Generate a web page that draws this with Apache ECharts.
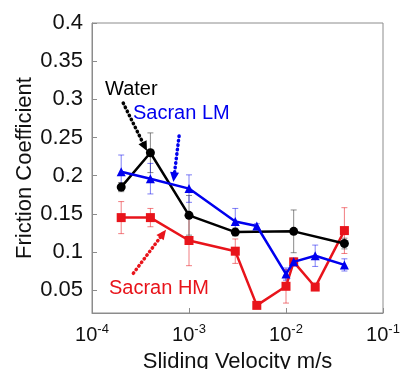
<!DOCTYPE html>
<html>
<head>
<meta charset="utf-8">
<script src="https://cdn.jsdelivr.net/npm/echarts@6/dist/echarts.min.js"></script>
<style>
  html, body { margin: 0; padding: 0; background: #fff; }
  #chart { width: 402px; height: 369px; }
</style>
</head>
<body>
<div id="chart"></div>
<script>
// sliding velocity (m/s)
const waterVel = [2e-4, 4e-4, 1e-3, 3e-3, 1.2e-2, 4e-2];
const sacranVel = [2e-4, 4e-4, 1e-3, 3e-3, 5e-3, 1e-2, 1.2e-2, 2e-2, 4e-2];

// friction coefficient + error
const water = [0.185, 0.230, 0.148, 0.126, 0.127, 0.111];
const waterErr = [0.006, 0.026, 0.026, 0.005, 0.028, 0.007];
const sacranLM = [0.205, 0.196, 0.183, 0.140, 0.134, 0.071, 0.087, 0.095, 0.083];
const sacranLMErr = [0.022, 0.020, 0.018, 0.017, 0.003, 0.008, 0.005, 0.014, 0.008];
const sacranHM = [0.145, 0.145, 0.115, 0.101, 0.030, 0.055, 0.087, 0.054, 0.128];
const sacranHMErr = [0.021, 0.012, 0.033, 0.016, 0.003, 0.022, 0.004, 0.003, 0.030];

const yTicks = [0.05, 0.1, 0.15, 0.2, 0.25, 0.3, 0.35, 0.4];
const xTickExp = { 0.0001: "-4", 0.001: "-3", 0.01: "-2", 0.1: "-1" };

// annotation arrows (data coords): [start, end]
const waterArrow = [[2.1e-4, 0.295], [3.5e-4, 0.238]];
const lmArrow = [[7.9e-4, 0.252], [7.0e-4, 0.198]];
const hmArrow = [[2.67e-4, 0.072], [5.4e-4, 0.124]];

const FONT = "Liberation Sans";
const AXIS_GRAY = "#8c8c8c";

function pts(xs, ys) {
  return xs.map((x, i) => [x, ys[i]]);
}
function errData(xs, ys, es) {
  return xs.map((x, i) => [x, ys[i] - es[i], ys[i] + es[i]]);
}

function errorSeries(xs, ys, es, color) {
  return {
    type: "custom",
    silent: true,
    data: errData(xs, ys, es),
    z: 1,
    renderItem: function (params, api) {
      const lo = api.coord([api.value(0), api.value(1)]);
      const hi = api.coord([api.value(0), api.value(2)]);
      const w = 3;
      const style = { stroke: color, lineWidth: 1 };
      return {
        type: "group",
        children: [
          { type: "line", shape: { x1: lo[0], y1: lo[1], x2: hi[0], y2: hi[1] }, style: style },
          { type: "line", shape: { x1: lo[0] - w, y1: lo[1], x2: lo[0] + w, y2: lo[1] }, style: style },
          { type: "line", shape: { x1: hi[0] - w, y1: hi[1], x2: hi[0] + w, y2: hi[1] }, style: style },
        ],
      };
    },
  };
}

function arrow(coords, color) {
  return {
    silent: true,
    symbol: ["none", "triangle"],
    symbolSize: [9, 10],
    label: { show: false },
    lineStyle: { color: color, type: [0.5, 4], cap: "round", width: 3.5 },
    data: [[{ coord: coords[0] }, { coord: coords[1] }]],
  };
}

const chart = echarts.init(document.getElementById("chart"));

const option = {
  animation: false,
  backgroundColor: "#fff",
  textStyle: { fontFamily: FONT },
  grid: {
    left: 92,
    right: 19,
    top: 23,
    bottom: 56,
    show: true,
    borderColor: AXIS_GRAY,
    borderWidth: 1,
    outerBoundsMode: "none",
  },
  xAxis: {
    type: "log",
    logBase: 10,
    min: 1e-4,
    max: 0.1,
    name: "Sliding Velocity m/s",
    nameLocation: "middle",
    nameMoveOverlap: false,
    nameGap: 38,
    nameTextStyle: { fontSize: 22, color: "#111", fontFamily: FONT },
    axisLine: { lineStyle: { color: AXIS_GRAY } },
    axisTick: { inside: true, length: 5, lineStyle: { color: AXIS_GRAY } },
    minorTick: { show: false },
    splitLine: { show: false },
    axisLabel: {
      margin: 10,
      color: "#111",
      formatter: function (v) {
        const key = Object.keys(xTickExp).find((k) => Math.abs(Math.log10(+k) - Math.log10(v)) < 1e-6);
        return "{b|10}{s|" + (key ? xTickExp[key] : "") + "}";
      },
      rich: {
        b: { fontSize: 20, fontFamily: FONT, color: "#111" },
        s: { fontSize: 13, fontFamily: FONT, color: "#111", padding: [0, 0, 12, 0] },
      },
    },
  },
  yAxis: {
    type: "value",
    min: 0.02,
    max: 0.4,
    name: "Friction Coefficient",
    nameLocation: "middle",
    nameRotate: 90,
    nameMoveOverlap: false,
    nameGap: 56,
    nameTextStyle: { fontSize: 22, color: "#111", fontFamily: FONT },
    axisLine: { show: true, lineStyle: { color: AXIS_GRAY } },
    axisTick: { inside: true, length: 5, customValues: yTicks, lineStyle: { color: AXIS_GRAY } },
    splitLine: { show: false },
    axisLabel: {
      customValues: yTicks,
      fontSize: 22,
      margin: 9,
      color: "#111",
      fontFamily: FONT,
      formatter: function (v) {
        return String(+v.toFixed(2));
      },
    },
  },
  graphic: [
    {
      type: "text",
      left: 105,
      top: 79,
      style: { text: "Water", fontSize: 20, fontFamily: FONT, fill: "#000" },
    },
    {
      type: "text",
      left: 133,
      top: 103,
      style: { text: "Sacran LM", fontSize: 20, fontFamily: FONT, fill: "#0000ee" },
    },
    {
      type: "text",
      left: 109,
      top: 278,
      style: { text: "Sacran HM", fontSize: 20, fontFamily: FONT, fill: "#e8141b" },
    },
  ],
  series: [
    errorSeries(sacranVel, sacranHM, sacranHMErr, "rgba(232,20,27,0.55)"),
    errorSeries(waterVel, water, waterErr, "rgba(60,60,60,0.6)"),
    errorSeries(sacranVel, sacranLM, sacranLMErr, "rgba(0,0,238,0.5)"),
    {
      name: "Sacran HM",
      type: "line",
      data: pts(sacranVel, sacranHM),
      symbol: "rect",
      symbolSize: 9,
      showAllSymbol: true,
      lineStyle: { color: "#e8141b", width: 2.5 },
      itemStyle: { color: "#e8141b" },
      z: 2,
      markLine: arrow(hmArrow, "#e8141b"),
    },
    {
      name: "Water",
      type: "line",
      data: pts(waterVel, water),
      symbol: "circle",
      symbolSize: 9,
      showAllSymbol: true,
      lineStyle: { color: "#000", width: 2.5 },
      itemStyle: { color: "#000" },
      z: 3,
      markLine: arrow(waterArrow, "#000"),
    },
    {
      name: "Sacran LM",
      type: "line",
      data: pts(sacranVel, sacranLM),
      symbol: "triangle",
      symbolSize: 9,
      showAllSymbol: true,
      lineStyle: { color: "#0000ee", width: 2.5 },
      itemStyle: { color: "#0000ee" },
      z: 4,
      markLine: arrow(lmArrow, "#0000ee"),
    },
  ],
};

chart.setOption(option);
</script>
</body>
</html>
